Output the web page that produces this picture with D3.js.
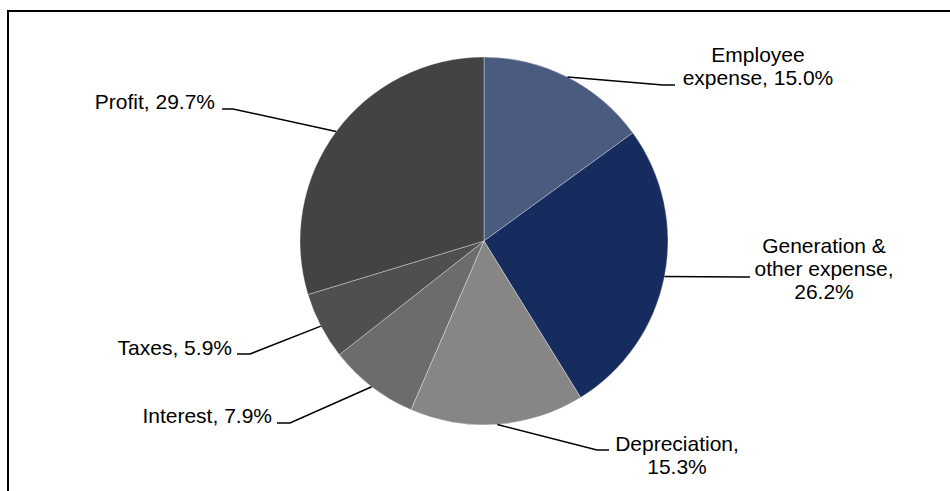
<!DOCTYPE html>
<html>
<head>
<meta charset="utf-8">
<script src="https://cdn.jsdelivr.net/npm/d3@7/dist/d3.min.js"></script>
<style>
  html, body { margin: 0; padding: 0; background: #fff; }
  svg { display: block; }
  text { font-family: "Liberation Sans", Arial, sans-serif; font-size: 21px; fill: #000; }
</style>
</head>
<body>
<svg id="chart" width="950" height="491"></svg>
<script>
// Cost breakdown shares (percent of revenue)
const categories = ["Employee expense", "Generation & other expense", "Depreciation", "Interest", "Taxes", "Profit"];
const shares = [15.0, 26.2, 15.3, 7.9, 5.9, 29.7];
const colors = ["#4b5b80", "#172c5e", "#868686", "#6c6c6c", "#4f4f4f", "#434343"];

// Label placement relative to the pie centre: text anchor, first baseline,
// words per line, and the leader line's elbow / end points.
const labelLayout = [
  { anchor: "middle", x: 274,  y: -179, words: [1, 2],    elbow: [179, -156], end: [191, -156] },
  { anchor: "middle", x: 340,  y: 12,   words: [2, 2, 1], elbow: [256, 36],   end: [266, 36] },
  { anchor: "middle", x: 193,  y: 210,  words: [1, 1],    elbow: [113, 209],  end: [125, 209] },
  { anchor: "end",    x: -212, y: 182,  words: [3],       elbow: [-194, 182], end: [-207, 182] },
  { anchor: "end",    x: -252, y: 114,  words: [3],       elbow: [-234, 113], end: [-247, 113] },
  { anchor: "end",    x: -269, y: -132, words: [3],       elbow: [-251, -132], end: [-262, -132] }
];

const svg = d3.select("#chart");
const cx = 484, cy = 241, radius = 184, lineHeight = 23;

// Outer frame (open to the right and bottom)
svg.append("rect")
  .attr("x", 8).attr("y", 11)
  .attr("width", 1000).attr("height", 600)
  .attr("fill", "none")
  .attr("stroke", "#000")
  .attr("stroke-width", 2);

const data = categories.map((name, i) => ({ name, value: shares[i], color: colors[i], layout: labelLayout[i] }));

const pie = d3.pie().sort(null).value(d => d.value).startAngle(0).endAngle(2 * Math.PI);
const arc = d3.arc().innerRadius(0).outerRadius(radius);
const edge = d3.arc().innerRadius(radius).outerRadius(radius);

const g = svg.append("g").attr("transform", `translate(${cx},${cy})`);
const arcs = pie(data);

g.selectAll("path.slice")
  .data(arcs)
  .join("path")
  .attr("class", "slice")
  .attr("d", arc)
  .attr("fill", d => d.data.color)
  .attr("stroke", "#ffffff")
  .attr("stroke-width", 0.35);

// Leader lines from the slice's outer mid-point to its label
g.selectAll("polyline.leader")
  .data(arcs)
  .join("polyline")
  .attr("class", "leader")
  .attr("fill", "none")
  .attr("stroke", "#000")
  .attr("stroke-width", 1.5)
  .attr("points", d => {
    const start = edge.centroid(d);
    const L = d.data.layout;
    return [start, L.elbow, L.end].map(p => p.join(",")).join(" ");
  });

// Labels: "Name, value%" wrapped onto lines
g.selectAll("text.label")
  .data(arcs)
  .join("text")
  .attr("class", "label")
  .attr("text-anchor", d => d.data.layout.anchor)
  .each(function(d) {
    const L = d.data.layout;
    const words = `${d.data.name}, ${d.data.value.toFixed(1)}%`.split(" ");
    let k = 0;
    L.words.forEach((n, i) => {
      d3.select(this).append("tspan")
        .attr("x", L.x)
        .attr("y", L.y + i * lineHeight)
        .text(words.slice(k, k + n).join(" "));
      k += n;
    });
  });
</script>
</body>
</html>
